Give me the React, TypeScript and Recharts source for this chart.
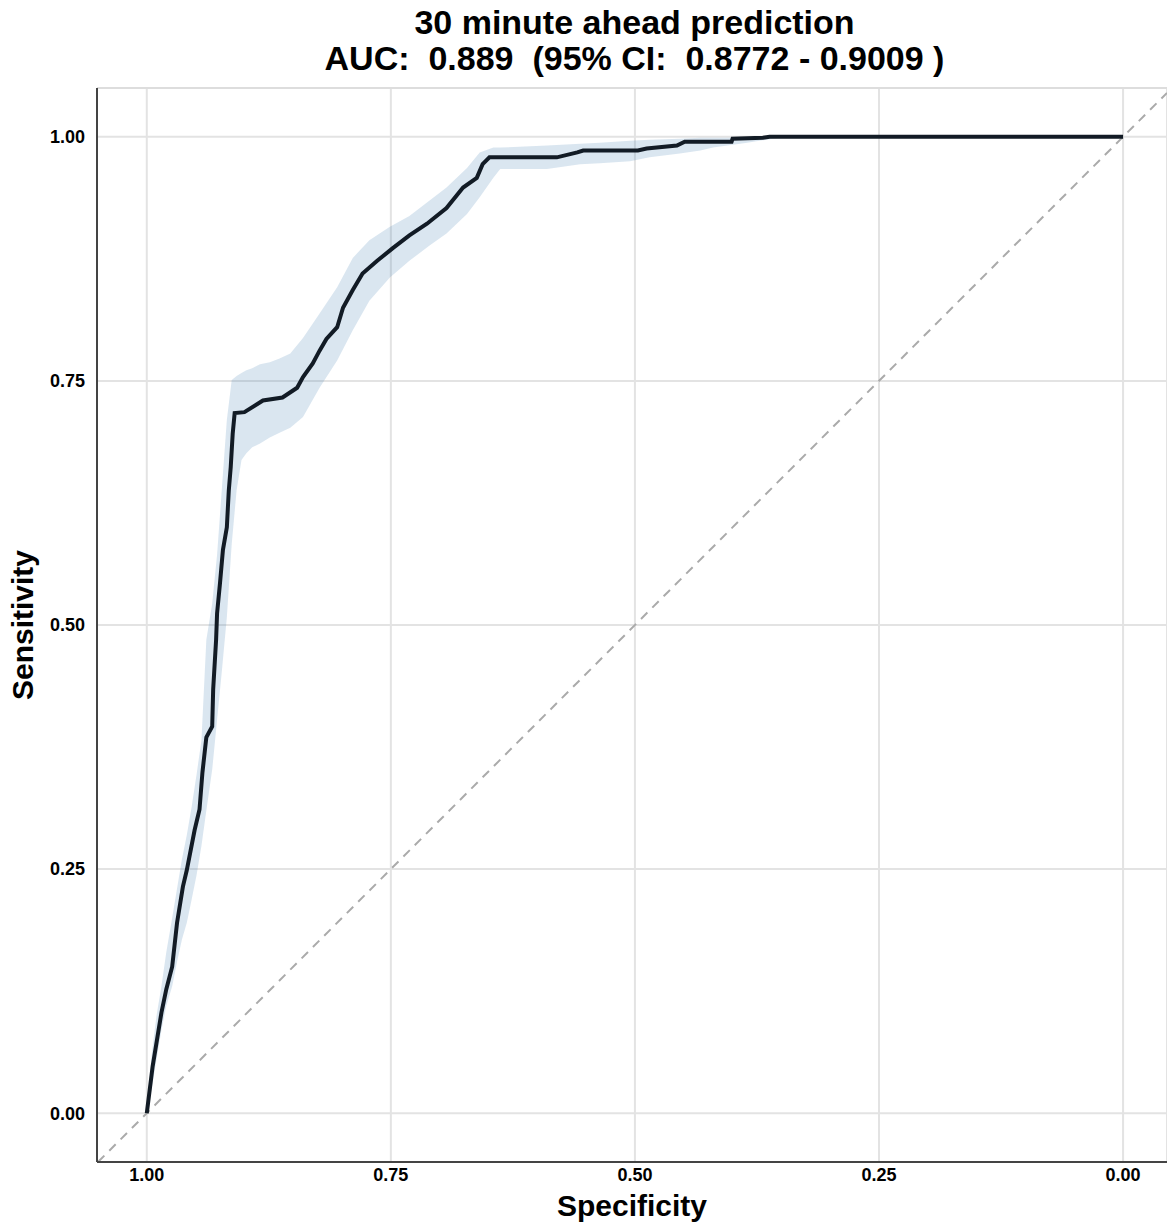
import React from 'react';
import { ComposedChart, Line, Area, XAxis, YAxis, CartesianGrid, ReferenceLine } from 'recharts';

const titleLine1 = '30 minute ahead prediction';
const titleLine2 = 'AUC:  0.889  (95% CI:  0.8772 - 0.9009 )';

const xTicks = [1, 0.75, 0.5, 0.25, 0];
const yTicks = [0, 0.25, 0.5, 0.75, 1];

const rocSpec = [1.000,0.994,0.985,0.980,0.974,0.969,0.963,0.959,0.951,0.946,0.943,0.939,0.933,0.932,0.929,0.928,0.925,0.922,0.918,0.916,0.914,0.912,0.910,0.900,0.881,0.861,0.846,0.840,0.830,0.823,0.816,0.805,0.799,0.789,0.779,0.764,0.748,0.731,0.713,0.693,0.676,0.662,0.656,0.649,0.580,0.559,0.553,0.497,0.488,0.457,0.449,0.401,0.400,0.369,0.362,0.000];
const rocSens = [0.000,0.048,0.103,0.127,0.150,0.195,0.232,0.249,0.290,0.311,0.349,0.385,0.396,0.434,0.485,0.512,0.543,0.577,0.600,0.638,0.662,0.696,0.717,0.718,0.730,0.733,0.743,0.754,0.768,0.781,0.793,0.805,0.825,0.843,0.860,0.873,0.886,0.899,0.911,0.927,0.948,0.958,0.972,0.979,0.979,0.984,0.986,0.986,0.988,0.991,0.995,0.995,0.998,0.999,1.000,1.000];

const bandSpec = [1.000,0.995,0.990,0.985,0.980,0.974,0.969,0.964,0.959,0.954,0.949,0.944,0.939,0.933,0.928,0.923,0.918,0.913,0.908,0.903,0.898,0.892,0.884,0.874,0.864,0.853,0.840,0.823,0.805,0.789,0.772,0.751,0.731,0.710,0.693,0.672,0.659,0.645,0.638,0.590,0.556,0.536,0.505,0.485,0.454,0.433,0.420,0.385,0.359,0.351];
const bandUpper = [0.000,0.060,0.100,0.130,0.165,0.200,0.230,0.260,0.285,0.314,0.347,0.382,0.485,0.522,0.572,0.641,0.710,0.751,0.755,0.758,0.761,0.763,0.767,0.769,0.773,0.778,0.794,0.819,0.846,0.876,0.894,0.908,0.919,0.935,0.948,0.968,0.984,0.989,0.989,0.991,0.993,0.994,0.996,0.997,0.998,0.999,0.999,0.999,1.000,1.000];
const bandLower = [0.000,0.025,0.055,0.085,0.110,0.130,0.155,0.178,0.195,0.219,0.244,0.274,0.310,0.352,0.403,0.454,0.508,0.583,0.638,0.669,0.676,0.682,0.686,0.692,0.697,0.702,0.713,0.743,0.771,0.802,0.832,0.856,0.873,0.889,0.901,0.921,0.938,0.958,0.967,0.967,0.972,0.973,0.975,0.979,0.983,0.986,0.989,0.994,0.998,0.999];

const rocData = rocSpec.map((s, i) => ({ spec: s, sens: rocSens[i] }));
const bandData = bandSpec.map((s, i) => ({ spec: s, range: [bandLower[i], bandUpper[i]] }));

const FONT = '"Liberation Sans", Arial, Helvetica, sans-serif';
const fmt = (v: number) => v.toFixed(2);

export default function App() {
  return (
    <div style={{ position: 'absolute', left: 0, top: 0, width: 1167, height: 1228, background: '#fff', fontFamily: FONT, overflow: 'hidden' }}>
      <div style={{ position: 'absolute', left: 97, width: 1075, top: 4, textAlign: 'center', fontWeight: 'bold', fontSize: 34, lineHeight: '36px', color: '#000' }}>
        <div>{titleLine1}</div>
        <div style={{ whiteSpace: 'pre' }}>{titleLine2}</div>
      </div>
      <ComposedChart width={1167} height={1228} margin={{ top: 88, right: 0, bottom: 0, left: 0 }}>
        <CartesianGrid stroke="#e3e3e3" strokeWidth={2} />
        <XAxis
          type="number"
          dataKey="spec"
          domain={[-0.045, 1.051]}
          allowDataOverflow
          reversed
          ticks={xTicks}
          tickFormatter={fmt}
          tickSize={0}
          tickMargin={6}
          height={66}
          axisLine={{ stroke: '#444', strokeWidth: 2 }}
          tick={{ fill: '#000', fontSize: 18, fontWeight: 'bold' }}
          label={{ value: 'Specificity', position: 'insideBottom', offset: 12, style: { fontSize: 30, fontWeight: 'bold', fill: '#000' } }}
        />
        <YAxis
          type="number"
          domain={[-0.05, 1.05]}
          allowDataOverflow
          ticks={yTicks}
          tickFormatter={fmt}
          tickSize={0}
          tickMargin={12}
          width={97}
          axisLine={{ stroke: '#444', strokeWidth: 2 }}
          tick={{ fill: '#000', fontSize: 18, fontWeight: 'bold' }}
          label={{ value: 'Sensitivity', angle: -90, position: 'insideLeft', offset: 22, style: { textAnchor: 'middle', fontSize: 30, fontWeight: 'bold', fill: '#000' } }}
        />
        <ReferenceLine y={1.05} stroke="#dddddd" strokeWidth={2} />
        <ReferenceLine
          segment={[{ x: 1.05, y: -0.05 }, { x: -0.045, y: 1.045 }]}
          stroke="#aaaaaa"
          strokeWidth={2}
          strokeDasharray="9 7"
        />
        <Area
          data={bandData}
          dataKey="range"
          type="linear"
          stroke="none"
          fill="#4682b4"
          fillOpacity={0.2}
          isAnimationActive={false}
        />
        <Line
          data={rocData}
          dataKey="sens"
          type="linear"
          stroke="#121b25"
          strokeWidth={4}
          dot={false}
          isAnimationActive={false}
        />
      </ComposedChart>
    </div>
  );
}
